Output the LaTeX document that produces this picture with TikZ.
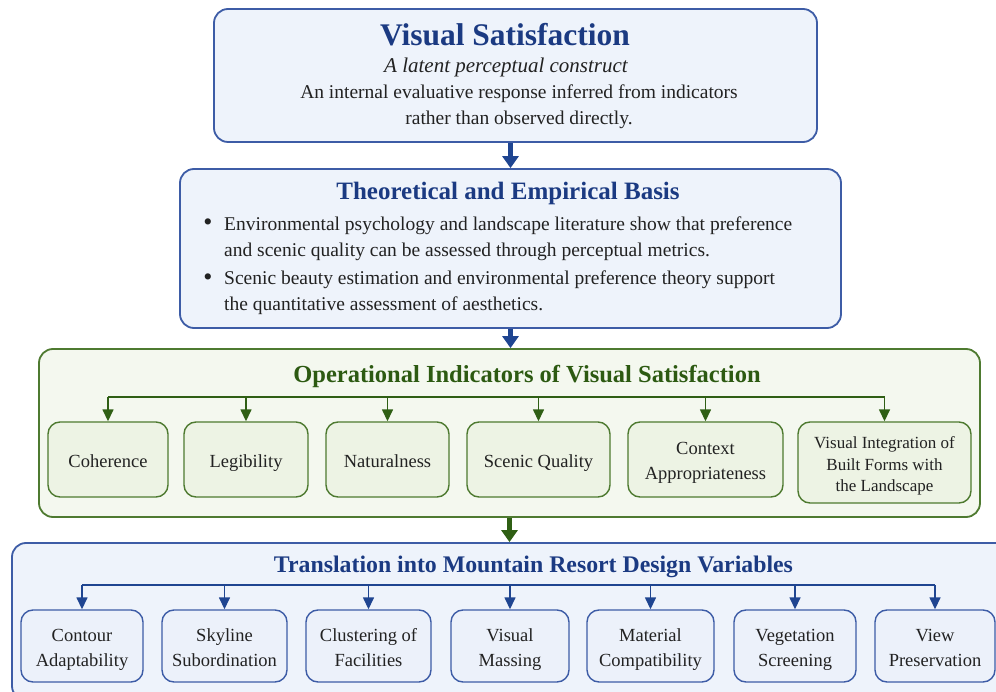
\documentclass[tikz,border=0pt]{standalone}
\usepackage{fontspec}
\setmainfont{Liberation Serif}
\usetikzlibrary{arrows.meta}

\definecolor{blueedge}{HTML}{3D5CA6}
\definecolor{bluetitle}{HTML}{1B3A82}
\definecolor{bluefill}{HTML}{EEF3FB}
\definecolor{bluesub}{HTML}{ECF1FA}
\definecolor{bluearrow}{HTML}{1F4591}
\definecolor{greenedge}{HTML}{4E7A30}
\definecolor{greentitle}{HTML}{2D5A12}
\definecolor{greenfill}{HTML}{F4F8EF}
\definecolor{greensub}{HTML}{EDF3E4}
\definecolor{greenarrow}{HTML}{2F5F14}
\definecolor{bodytext}{HTML}{222222}

\tikzset{
  mainbox/.style={rectangle, rounded corners=14pt, line width=1.8pt, inner sep=0pt},
  bluemain/.style={mainbox, draw=blueedge, fill=bluefill},
  greenmain/.style={mainbox, draw=greenedge, fill=greenfill},
  subbox/.style={rectangle, rounded corners=12pt, line width=1.4pt, inner sep=0pt,
    align=center, text=bodytext, font=\fontsize{18.5}{25}\selectfont},
  % vertical padding struts so labels sit at the same height in every box
  oneline/.style={execute at begin node={\rule{0pt}{19pt}},
    execute at end node={\rule[-4pt]{0pt}{4pt}}},
  twoline/.style={execute at begin node={\rule{0pt}{44pt}},
    execute at end node={\rule[-4pt]{0pt}{4pt}}},
  threeline/.style={execute at begin node={\rule{0pt}{62pt}},
    execute at end node={\rule[-4pt]{0pt}{4pt}}},
  bluesubbox/.style={subbox, draw=blueedge, fill=bluesub},
  greensubbox/.style={subbox, draw=greenedge, fill=greensub},
  bigtitle/.style={font=\fontsize{24.5}{28}\selectfont\bfseries, inner sep=0pt},
  bodynode/.style={text=bodytext, inner sep=0pt, font=\fontsize{19.5}{26}\selectfont},
  bluebus/.style={draw=bluearrow, line width=1.5pt},
  greenbus/.style={draw=greenarrow, line width=1.5pt},
  bluedrop/.style={bluebus, -{Triangle[width=11pt,length=12pt]}},
  greendrop/.style={greenbus, -{Triangle[width=11pt,length=12pt]}},
  bigblue/.style={draw=bluearrow, line width=4.5pt, -{Triangle[width=16pt,length=12pt]}},
  biggreen/.style={draw=greenarrow, line width=4.5pt, -{Triangle[width=16pt,length=12pt]}},
}

\begin{document}
\begin{tikzpicture}[x=1pt,y=-1pt]
\clip (0,0) rectangle (996,692);
\fill[white] (0,0) rectangle (996,692);

% ---------- Visual Satisfaction ----------
\node[bluemain, minimum width=603pt, minimum height=133pt] (vs) at (515.5,75.5) {};
\node[bigtitle, text=bluetitle, font=\fontsize{31.5}{36}\selectfont\bfseries] (vstitle) at (505,35) {Visual Satisfaction};
\node[bodynode, font=\fontsize{21}{26}\selectfont\itshape] (vssub) at (506,67) {A latent perceptual construct};
\node[bodynode, align=center] (vsdesc) at (519,107) {An internal evaluative response inferred from indicators\\rather than observed directly.};

% ---------- Theoretical and Empirical Basis ----------
\node[bluemain, minimum width=661pt, minimum height=159pt] (basis) at (510.5,248.5) {};
\node[bigtitle, text=bluetitle, font=\fontsize{25}{30}\selectfont\bfseries] (basistitle) at (508,193) {Theoretical and Empirical Basis};
\node[bodynode, font=\fontsize{26}{26}\selectfont] (dota) at (208,225) {\textbullet};
\node[bodynode, align=left, anchor=west] (itema) at (224,238.5) {Environmental psychology and landscape literature show that preference\\and scenic quality can be assessed through perceptual metrics.};
\node[bodynode, font=\fontsize{26}{26}\selectfont] (dotb) at (208,280) {\textbullet};
\node[bodynode, align=left, anchor=west] (itemb) at (224,293) {Scenic beauty estimation and environmental preference theory support\\the quantitative assessment of aesthetics.};

% ---------- Operational Indicators ----------
\node[greenmain, minimum width=941pt, minimum height=168pt] (ind) at (509.5,433) {};
\node[bigtitle, text=greentitle] (indtitle) at (527,376) {Operational Indicators of Visual Satisfaction};

\node[greensubbox, oneline, minimum width=120pt, minimum height=75pt] (coh) at (108,459.5) {Coherence};
\node[greensubbox, oneline, minimum width=124pt, minimum height=75pt] (leg) at (246,459.5) {Legibility};
\node[greensubbox, oneline, minimum width=123pt, minimum height=75pt] (nat) at (387.5,459.5) {Naturalness};
\node[greensubbox, oneline, minimum width=143pt, minimum height=75pt] (scq) at (538.5,459.5) {Scenic Quality};
\node[greensubbox, twoline, minimum width=155pt, minimum height=75pt] (ctx) at (705.5,459.5) {Context\\Appropriateness};
\node[greensubbox, threeline, minimum width=173pt, minimum height=81pt, font=\fontsize{17}{21.5}\selectfont] (vin) at (884.5,462.5) {Visual Integration of\\Built Forms with\\the Landscape};

\coordinate (busg) at (0,397);
\draw[greenbus] (coh.north |- busg) -- (vin.north |- busg);
\foreach \n in {coh,leg,nat,scq,ctx,vin}
  \draw[greendrop] (\n.north |- busg) -- (\n.north);

% ---------- Translation into design variables ----------
\node[bluemain, minimum width=998pt, minimum height=157pt] (trans) at (511,621.5) {};
\node[bigtitle, text=bluetitle, font=\fontsize{23.8}{28}\selectfont\bfseries] (transtitle) at (533.5,567) {Translation into Mountain Resort Design Variables};

\node[bluesubbox, twoline, minimum width=122pt, minimum height=72pt] (con) at (82,646) {Contour\\Adaptability};
\node[bluesubbox, twoline, minimum width=125pt, minimum height=72pt] (sky) at (224.5,646) {Skyline\\Subordination};
\node[bluesubbox, twoline, minimum width=125pt, minimum height=72pt] (clu) at (368.5,646) {Clustering of\\Facilities};
\node[bluesubbox, twoline, minimum width=118pt, minimum height=72pt] (vma) at (510,646) {Visual\\Massing};
\node[bluesubbox, twoline, minimum width=127pt, minimum height=72pt] (mat) at (650.5,646) {Material\\Compatibility};
\node[bluesubbox, twoline, minimum width=122pt, minimum height=72pt] (veg) at (795,646) {Vegetation\\Screening};
\node[bluesubbox, twoline, minimum width=120pt, minimum height=72pt] (vie) at (935,646) {View\\Preservation};

\coordinate (busb) at (0,585);
\draw[bluebus] (con.north |- busb) -- (vie.north |- busb);
\foreach \n in {con,sky,clu,vma,mat,veg,vie}
  \draw[bluedrop] (\n.north |- busb) -- (\n.north);

% ---------- flow between levels ----------
\draw[bigblue] (vs.south -| basis.north) -- (basis.north);
\draw[bigblue] (basis.south) -- (basis.south |- ind.north);
\draw[biggreen] (ind.south) -- (ind.south |- trans.north);
\end{tikzpicture}
\end{document}
